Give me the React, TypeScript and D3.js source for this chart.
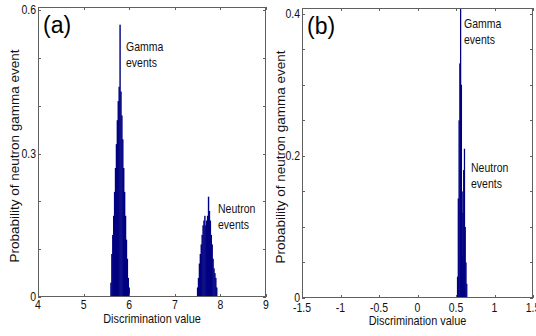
import { useEffect, useRef } from 'react'
import * as d3 from 'd3'

// histogram bins (center, probability)
const GAMMA_A_X = [5.60, 5.62, 5.64, 5.66, 5.68, 5.70, 5.72, 5.74, 5.76, 5.78, 5.80, 5.82, 5.84, 5.86, 5.88, 5.90, 5.92, 5.94, 5.96, 5.98, 6.00]
const GAMMA_A_Y = [0.03, 0.09, 0.13, 0.17, 0.22, 0.27, 0.32, 0.37, 0.41, 0.44, 0.57, 0.43, 0.38, 0.33, 0.27, 0.22, 0.17, 0.12, 0.08, 0.04, 0.02]
const NEUTRON_A_X = [7.50, 7.52, 7.54, 7.56, 7.58, 7.60, 7.62, 7.64, 7.66, 7.68, 7.70, 7.72, 7.74, 7.76, 7.78, 7.80, 7.82, 7.84, 7.86, 7.88, 7.90, 7.92]
const NEUTRON_A_Y = [0.02, 0.04, 0.07, 0.09, 0.11, 0.13, 0.15, 0.16, 0.17, 0.15, 0.16, 0.17, 0.21, 0.18, 0.16, 0.13, 0.11, 0.08, 0.06, 0.05, 0.04, 0.02]

const GAMMA_B_X = [0.52, 0.53, 0.54, 0.55, 0.56, 0.57, 0.58, 0.59]
const GAMMA_B_Y = [0.03, 0.14, 0.25, 0.33, 0.55, 0.30, 0.15, 0.05]
const NEUTRON_B_X = [0.58, 0.59, 0.60, 0.61, 0.62, 0.63, 0.64]
const NEUTRON_B_Y = [0.06, 0.12, 0.18, 0.21, 0.10, 0.05, 0.02]

const A_XTICKS = [4, 5, 6, 7, 8, 9]
const A_YTICKS = [0, 0.1, 0.2, 0.3, 0.4, 0.5, 0.6]
const A_YLABELS = [0, 0.3, 0.6]
const B_XTICKS = [-1.5, -1, -0.5, 0, 0.5, 1, 1.5]
const B_YTICKS = [0, 0.05, 0.1, 0.15, 0.2, 0.25, 0.3, 0.35, 0.4]
const B_YLABELS = [0, 0.2, 0.4]

const FONT = '"Liberation Sans", Arial, sans-serif'
const NARROW = 0.84 // the figure uses a condensed face
const BAR = '#000080'
const AXIS = '#606060'

type Sel = d3.Selection<SVGSVGElement, unknown, null, undefined>

type PanelCfg = {
  tag: string
  box: { l: number; r: number; t: number; b: number }
  xDom: [number, number]; yDom: [number, number]
  xTicks: number[]; yTicks: number[]; yLabels: number[]
  bw: number
  series: { x: number[]; y: number[] }[]
  notes: { text: string[]; x: number; y: number }[]
  xTickY: number
  xLabY: number
  yLabX: number
}

const PANELS: PanelCfg[] = [
  {
    tag: '(a)', box: { l: 38, r: 266, t: 7, b: 297 },
    xDom: [4, 9], yDom: [0, 0.607],
    xTicks: A_XTICKS, yTicks: A_YTICKS, yLabels: A_YLABELS,
    bw: 0.02,
    series: [{ x: GAMMA_A_X, y: GAMMA_A_Y }, { x: NEUTRON_A_X, y: NEUTRON_A_Y }],
    notes: [
      { text: ['Gamma', 'events'], x: 126, y: 51 },
      { text: ['Neutron', 'events'], x: 218, y: 213 },
    ],
    xTickY: 309, xLabY: 323, yLabX: 19,
  },
  {
    tag: '(b)', box: { l: 302, r: 533, t: 8, b: 298 },
    xDom: [-1.5, 1.5], yDom: [0, 0.408],
    xTicks: B_XTICKS, yTicks: B_YTICKS, yLabels: B_YLABELS,
    bw: 0.01,
    series: [{ x: GAMMA_B_X, y: GAMMA_B_Y }, { x: NEUTRON_B_X, y: NEUTRON_B_Y }],
    notes: [
      { text: ['Gamma', 'events'], x: 464, y: 28 },
      { text: ['Neutron', 'events'], x: 471, y: 172 },
    ],
    xTickY: 312, xLabY: 325, yLabX: 285,
  },
]

function label(svg: Sel, x: number, y: number, s: string, size: number, anchor = 'start') {
  return svg.append('text').attr('transform', `translate(${x},${y}) scale(${NARROW},1)`)
    .attr('text-anchor', anchor).attr('font-family', FONT).attr('font-size', size)
    .attr('fill', '#111').text(s)
}

function drawPanel(svg: Sel, p: PanelCfg) {
  const { l, r, t, b } = p.box
  const x = d3.scaleLinear().domain(p.xDom).range([l, r])
  const y = d3.scaleLinear().domain(p.yDom).range([b, t])
  const clipId = 'clip' + p.tag.replace(/\W/g, '')

  svg.append('clipPath').attr('id', clipId)
    .append('rect').attr('x', l).attr('y', t).attr('width', r - l).attr('height', b - t)

  // bars, slightly widened so neighbours fuse like the printed histogram
  const g = svg.append('g').attr('clip-path', `url(#${clipId})`)
  p.series.forEach(s => {
    g.selectAll(null).data(s.x.map((v, i) => [v, s.y[i]])).join('rect')
      .attr('x', d => x(d[0] - p.bw / 2) - 0.25)
      .attr('width', d => x(d[0] + p.bw / 2) - x(d[0] - p.bw / 2) + 0.5)
      .attr('y', d => y(d[1]))
      .attr('height', d => y(0) - y(d[1]))
      .attr('fill', BAR)
  })

  // box
  svg.append('rect').attr('x', l + 0.5).attr('y', t + 0.5).attr('width', r - l - 1).attr('height', b - t - 1)
    .attr('fill', 'none').attr('stroke', AXIS).attr('stroke-width', 1)

  // ticks inward on all four sides
  const tl = 3
  p.xTicks.forEach(v => {
    const xx = Math.round(x(v)) + 0.5
    svg.append('line').attr('x1', xx).attr('x2', xx).attr('y1', b).attr('y2', b - tl).attr('stroke', AXIS)
    svg.append('line').attr('x1', xx).attr('x2', xx).attr('y1', t).attr('y2', t + tl).attr('stroke', AXIS)
    label(svg, x(v), p.xTickY, String(v), 12.5, 'middle')
  })
  p.yTicks.forEach(v => {
    const yy = Math.round(y(v)) + 0.5
    svg.append('line').attr('x1', l).attr('x2', l + tl).attr('y1', yy).attr('y2', yy).attr('stroke', AXIS)
    svg.append('line').attr('x1', r).attr('x2', r - tl).attr('y1', yy).attr('y2', yy).attr('stroke', AXIS)
  })
  p.yLabels.forEach(v => {
    label(svg, l - 2, y(v) + 4, String(v), 12.5, 'end')
  })

  // axis titles
  label(svg, (l + r) / 2, p.xLabY, 'Discrimination value', 13, 'middle')
  svg.append('text').attr('transform', `translate(${p.yLabX},${(t + b) / 2 + 4}) rotate(-90)`)
    .attr('text-anchor', 'middle').attr('font-family', FONT)
    .attr('font-size', 13.5).attr('fill', '#111').text('Probability of neutron gamma event')

  // panel tag
  svg.append('text').attr('x', l + 5).attr('y', t + 26)
    .attr('font-family', FONT).attr('font-size', 23).attr('fill', '#000').text(p.tag)

  // annotations
  p.notes.forEach(n => {
    n.text.forEach((s, i) => label(svg, n.x, n.y + i * 16, s, 12.5))
  })
}

export default function App() {
  const ref = useRef<SVGSVGElement>(null)

  useEffect(() => {
    if (!ref.current) return
    const svg = d3.select(ref.current)
    svg.selectAll('*').remove()
    PANELS.forEach(p => drawPanel(svg, p))
  }, [])

  return (
    <svg ref={ref} width={536} height={336}
      style={{ position: 'absolute', left: 0, top: 0, background: '#fff' }} />
  )
}
